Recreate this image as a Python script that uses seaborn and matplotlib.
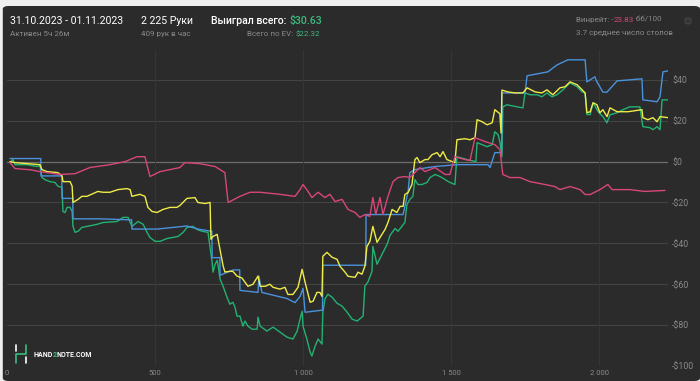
import matplotlib
matplotlib.use("Agg")
import matplotlib.pyplot as plt
from matplotlib.patches import FancyBboxPatch
from matplotlib.lines import Line2D
import seaborn as sns
import pandas as pd

# hands played vs. $ won
pink_hands = [10, 27, 78, 111, 179, 230, 280, 348, 399, 439, 466, 483, 517, 551, 584, 601, 652, 703, 736,
              747, 787, 821, 855, 922, 973, 990, 1000, 1017, 1030, 1051, 1074, 1091, 1108, 1132, 1152, 1176,
              1192, 1209, 1226, 1236, 1246, 1260, 1270, 1287, 1304, 1321, 1344, 1361, 1378, 1395, 1412, 1446,
              1480, 1496, 1513, 1547, 1564, 1581, 1615, 1648, 1665, 1675, 1699, 1733, 1767, 1817, 1851, 1868,
              1902, 1936, 1953, 1970, 2003, 2030, 2044, 2104, 2155, 2223]
pink_won = [-0.5, -3.4, -4, -4.9, -6.3, -5.9, -2.9, -1.5, 0, 2.4, 2.4, -7.3, -4.9, -3.9, -2.9, -0.5, -1.0, -2.4, -5.4,
            -20, -17, -15, -15, -16, -17, -13.7, -11.2, -14.6, -17.6, -15, -17.6, -16, -19.5, -18.5, -23.4, -24.9,
            -27.3, -25.9, -26.8, -17.6, -25.9, -17.6, -25.9, -17, -9.8, -7.8, -7.3, -7.8, -5.4, -2.9, -4.9, -2.9,
            -6.3, -6.3, 2.4, 1, 0.5, 11.7, 9.8, 8.3, 5.9, -6.3, -7.8, -7.8, -9.8, -11.2, -12.2, -13.7,
            -12.2, -13.7, -16.1, -16.1, -13.7, -11.2, -13.7, -13.7, -14.6, -14.1]

blue_hands = [10, 114, 115, 185, 186, 222, 223, 314, 416, 421, 422, 507, 608, 645, 686, 692, 693, 719, 720, 763,
              786, 787, 848, 851, 861, 946, 973, 990, 1000, 1007, 1064, 1066, 1067, 1209, 1212, 1213, 1287, 1338,
              1344, 1355, 1361, 1378, 1446, 1520, 1625, 1632, 1648, 1665, 1671, 1672, 1750, 1757, 1794, 1827,
              1858, 1895, 1953, 1959, 1986, 1993, 2013, 2027, 2061, 2145, 2148, 2196, 2206, 2216, 2233]
blue_won = [1.5, 1.5, -7, -7, -18, -18, -28, -28, -28.5, -28.5, -33, -33, -31.5, -33, -34, -34, -47, -47, -55.6, -53,
            -53, -63, -64, -56, -64, -67, -69, -66, -62, -73.7, -72.7, -72.7, -50.7, -50.7, -50.7, -25.9, -25.9, -25.9,
            -21.9, -14.6, -5.4, -3.9, -2.4, -1.5, -1.5, -2.9, 4.4, 4.4, 4.4, 33.6, 33.6, 42, 43, 43.9,
            47.3, 49.8, 49.8, 39, 41.5, 39, 34, 34, 39.5, 40.5, 30.2, 29.3, 31.7, 43.9, 44.4]

yellow_hands = [10, 27, 111, 118, 135, 172, 186, 189, 213, 220, 223, 240, 253, 270, 307, 324, 348, 375, 405, 416,
                422, 449, 466, 476, 490, 507, 527, 551, 574, 584, 608, 635, 645, 669, 686, 689, 696, 710, 713,
                730, 736, 753, 763, 777, 794, 804, 814, 831, 848, 855, 872, 888, 899, 922, 939, 949, 966, 983,
                997, 1007, 1024, 1034, 1047, 1057, 1064, 1067, 1081, 1098, 1115, 1125, 1142, 1152, 1176, 1186,
                1199, 1209, 1216, 1226, 1236, 1250, 1277, 1287, 1301, 1317, 1328, 1338, 1344, 1355, 1368, 1378,
                1385, 1395, 1412, 1422, 1436, 1453, 1463, 1473, 1486, 1513, 1520, 1547, 1564, 1581, 1588, 1605,
                1622, 1639, 1648, 1665, 1669, 1672, 1692, 1716, 1743, 1757, 1784, 1807, 1824, 1844, 1868, 1885,
                1902, 1926, 1943, 1953, 1959, 1970, 1980, 1993, 2003, 2013, 2027, 2037, 2061, 2098, 2145, 2148,
                2165, 2182, 2196, 2206, 2233]
yellow_won = [0, -0.5, -1.5, -3.9, -4.9, -5.4, -7, -9.8, -9.8, -12, -20, -18.5, -17, -17, -14.6, -15, -15, -13.7, -13.2,
              -13.7, -17, -16, -17, -22.4, -24.4, -24.9, -23.4, -22.4, -22.4, -21.5, -18, -17.6, -20, -20.5, -20,
              -38, -36.6, -35.6, -38, -51, -54, -53.7, -53.7, -56, -57, -59, -61, -60, -56, -61, -61, -60, -61.5,
              -62.4, -61.5, -65, -65, -61.5, -52.7, -59, -68.8, -68.3, -64, -64, -65.9, -46.3, -44.4, -46.8,
              -47.8, -51.2, -54.1, -56.1, -56.6, -54.1, -55.1, -51.2, -41.5, -39, -31.7, -39.5, -33.2, -29.8,
              -23.4, -24.9, -21.9, -21.9, -16.1, -15.1, -11.2, 1, 2, -0.5, 1, 1, 3.4, 4.4, 2.4, 4.9, 1, -0.5,
              10.7, 11.2, 10.7, 11.7, 20.5, 19.5, 18, 19, 25.4, 23.4, 14, 35, 34.1, 33.6, 33.6, 36.1, 34.1,
              33.6, 35.1, 32.7, 36.1, 36.6, 39, 37.6, 35.1, 33.6, 23.9, 24.4, 28.8, 27.8, 23.9, 25.4, 22,
              26.3, 24.4, 24.4, 25.4, 21.5, 20.5, 21.5, 19.5, 22, 21.5]

green_hands = [10, 20, 27, 68, 101, 111, 118, 128, 145, 162, 172, 186, 189, 196, 203, 213, 220, 223, 230, 240, 253,
               270, 304, 324, 372, 392, 409, 422, 443, 460, 473, 483, 500, 517, 541, 561, 578, 595, 608, 628,
               642, 659, 679, 693, 696, 703, 710, 713, 720, 730, 743, 753, 763, 770, 777, 787, 797, 804, 814,
               828, 845, 848, 855, 878, 899, 922, 946, 966, 980, 990, 997, 1000, 1013, 1024, 1030, 1041, 1051,
               1064, 1067, 1074, 1084, 1098, 1115, 1132, 1149, 1166, 1183, 1203, 1209, 1219, 1233, 1236, 1250,
               1284, 1294, 1311, 1321, 1334, 1344, 1351, 1361, 1371, 1378, 1388, 1402, 1419, 1429, 1446, 1463,
               1480, 1496, 1513, 1520, 1554, 1584, 1588, 1605, 1622, 1639, 1648, 1659, 1665, 1672, 1675, 1689,
               1723, 1743, 1750, 1767, 1791, 1807, 1824, 1841, 1858, 1878, 1902, 1926, 1943, 1953, 1959, 1970,
               1980, 1997, 2013, 2027, 2037, 2061, 2081, 2104, 2138, 2148, 2172, 2182, 2196, 2206, 2213, 2233]
green_won = [-0.5, 1, -1.5, -1.5, -2.4, -2, -7.8, -8.8, -9.8, -10.2, -12, -12.7, -24.4, -24.9, -22.4, -22.4, -24.4,
             -31.7, -34.6, -34.1, -32.2, -31.7, -30.7, -29.8, -29.3, -27.3, -27.3, -31.7, -29.3, -30.7, -34.6,
             -37.1, -39, -39, -37.6, -37.1, -36.6, -34.6, -32.2, -31.7, -33.2, -34.1, -34.6, -49.3, -54.1, -50.2,
             -48.3, -50.7, -57.6, -61, -66.3, -69.8, -68.8, -71.2, -75.6, -75.6, -80.5, -78, -80.5, -82, -82,
             -76.1, -80.5, -82.9, -81, -83.4, -85.9, -86.8, -83, -77, -73.2, -80.5, -86.8, -93.2, -95.1, -90.2,
             -86.8, -89.3, -73.7, -67.3, -64.9, -66.3, -69.3, -70.7, -73.7, -77.1, -78, -75.6, -60.9, -59,
             -53.7, -41.5, -50.2, -40.5, -36.1, -32.7, -34.1, -31.7, -29.8, -21, -18.5, -17, -8.8, -11.2, -11.2,
             -10.2, -7.8, -6.3, -7.3, -8.8, -10.2, -11.2, 2.4, 1, 0, 9.3, 8.3, 7.3, 8.3, 14.6, 13.2, 9.8, 2.4,
             26.8, 27.8, 26.8, 26.3, 33.6, 32.7, 32.7, 31.7, 33.6, 31.7, 32.7, 35.1, 38.5, 36.6, 34.1, 33.6,
             23, 23, 28.8, 24.4, 22, 19, 22.9, 23.9, 25.4, 26.8, 26.8, 17.1, 16.6, 15.6, 17.1, 15.6, 30.2, 30.2]

y_ticks = [40, 20, 0, -20, -40, -60, -80, -100]
y_labels = ["$40", "$20", "$0", "-$20", "-$40", "-$60", "-$80", "-$100"]
x_ticks = [0, 500, 1000, 1500, 2000]
x_labels = ["0", "500", "1 000", "1 500", "2 000"]

BG = "#2b2b2b"
GREY = "#8a8a8a"
GREEN_TXT = "#3dba80"
colors = {"green": "#22b272", "blue": "#4a92dc", "yellow": "#efec48", "pink": "#d8467a"}

frames = []
for name, h, w in [("green", green_hands, green_won), ("blue", blue_hands, blue_won),
                   ("yellow", yellow_hands, yellow_won), ("pink", pink_hands, pink_won)]:
    frames.append(pd.DataFrame({"hands": h, "won": w, "series": name}))
df = pd.concat(frames, ignore_index=True)

sns.set_theme(style="dark")
plt.rcParams["font.family"] = ["Roboto", "DejaVu Sans"]

fig = plt.figure(figsize=(7, 3.81), dpi=100, facecolor="#efefef")
bg = FancyBboxPatch((0.004, 0), 0.996, 1 - 6 / 381, boxstyle="round,pad=0,rounding_size=0.008",
                    transform=fig.transFigure, facecolor=BG, edgecolor="none", zorder=-10)
fig.patches.append(bg)

ax = fig.add_axes([7 / 700, 1 - 366 / 381, 661 / 700, 316 / 381])
ax.set_zorder(5)
ax.patch.set_alpha(0)

sns.lineplot(data=df, x="hands", y="won", hue="series", palette=colors, sort=False, estimator=None,
             legend=False, linewidth=1.0, ax=ax, zorder=3)

ax.set_xlim(0, 2233)
ax.set_ylim(-100, 54.6)
for v in y_ticks:
    ax.axhline(v, color="#6e6e6e" if v == 0 else "#454545", lw=0.9 if v == 0 else 0.7, zorder=1)
for v in x_ticks[1:]:
    ax.axvline(v, color="#363636", lw=0.7, zorder=1)

ax.set_yticks(y_ticks, y_labels)
ax.set_xticks(x_ticks, x_labels)
ax.yaxis.tick_right()
ax.tick_params(axis="y", length=0, pad=3, labelsize=6.3, labelcolor=GREY)
ax.tick_params(axis="x", length=0, pad=3, labelsize=5.5, labelcolor=GREY)
ax.grid(False)
ax.set_xlabel("")
ax.set_ylabel("")
for s in ax.spines.values():
    s.set_visible(False)

renderer = fig.canvas.get_renderer()


def ftext(x, y, parts, size, weight="normal", ha="left"):
    # parts: list of (text, colour), laid next to each other starting at pixel x
    artists = []
    cur = x
    for s, c in parts:
        t = fig.text(cur / 700, 1 - y / 381, s, va="center", color=c, fontsize=size, fontweight=weight)
        cur += t.get_window_extent(renderer).width
        artists.append(t)
    if ha == "right":
        shift = cur - x
        for t in artists:
            px, py = t.get_position()
            t.set_position((px - shift / 700, py))


ftext(10, 21, [("31.10.2023 - 01.11.2023", "white")], 7.6)
ftext(10, 34, [("Активен 5ч 26м", GREY)], 5.8)
ftext(141, 21, [("2 225 Руки", "white")], 7.6)
ftext(141, 34, [("409 рук в час", GREY)], 5.8)
ftext(211, 21, [("Выиграл всего: ", "white"), ("$30.63", GREEN_TXT)], 7.6, weight="medium")
ftext(320, 34, [("Всего по EV: ", GREY), ("$22.32", GREEN_TXT)], 5.8, ha="right")
ftext(576, 20, [("Винрейт: -", GREY), ("23.83", "#d8467a"), (" бб/100", GREY)], 5.8)
ftext(576, 33, [("3.7 среднее число столов", GREY)], 5.8)
fig.text(688 / 700, 1 - 22 / 381, "\u2699", family="DejaVu Sans", color="#4a4a4a", fontsize=8,
         ha="center", va="center")

# logo
fig.lines.append(Line2D([16 / 700, 16 / 700], [1 - 345 / 381, 1 - 351 / 381], transform=fig.transFigure,
                        color="white", lw=1.2))
fig.lines.append(Line2D([26 / 700, 26 / 700], [1 - 357 / 381, 1 - 363 / 381], transform=fig.transFigure,
                        color="white", lw=1.2))
fig.lines.append(Line2D([16 / 700, 16 / 700, 26 / 700, 26 / 700], [1 - 363 / 381, 1 - 354 / 381, 1 - 354 / 381,
                        1 - 345 / 381], transform=fig.transFigure, color=GREEN_TXT, lw=1.2))
ftext(33, 355, [("HAND", "white"), ("2", GREEN_TXT), ("NOTE.COM", "white")], 5, weight="bold")

fig.savefig("out.png", dpi=100, facecolor=fig.get_facecolor())
